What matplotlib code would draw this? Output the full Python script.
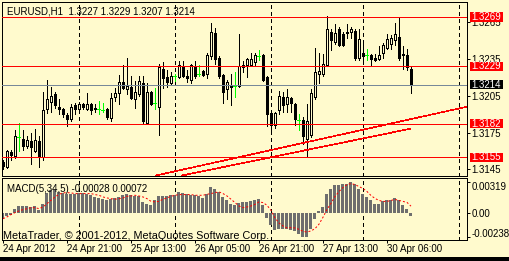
import numpy as np
import matplotlib
matplotlib.use('Agg')
import matplotlib.pyplot as plt
from matplotlib.patches import Rectangle
from matplotlib.transforms import blended_transform_factory

# --- candles (EURUSD H1), one row per bar: open, high, low, close ---
opens = [1.3151, 1.3147, 1.3159, 1.3156, 1.3171, 1.3170, 1.3164, 1.3168, 1.3160, 1.3168,
         1.3155, 1.3194, 1.3200, 1.3206, 1.3196, 1.3194, 1.3189, 1.3186, 1.3197, 1.3194,
         1.3198, 1.3194, 1.3198, 1.3195, 1.3194, 1.3193, 1.3194, 1.3187, 1.3204, 1.3207,
         1.3216, 1.3210, 1.3212, 1.3202, 1.3206, 1.3215, 1.3183, 1.3208, 1.3199, 1.3196,
         1.3227, 1.3220, 1.3215, 1.3221, 1.3220, 1.3229, 1.3221, 1.3218, 1.3229, 1.3223,
         1.3225, 1.3223, 1.3237, 1.3256, 1.3236, 1.3222, 1.3210, 1.3214, 1.3213, 1.3213,
         1.3228, 1.3230, 1.3230, 1.3232, 1.3237, 1.3238, 1.3220, 1.3191, 1.3181, 1.3193,
         1.3204, 1.3198, 1.3203, 1.3198, 1.3185, 1.3185, 1.3170, 1.3173, 1.3204, 1.3223,
         1.3223, 1.3230, 1.3257, 1.3249, 1.3259, 1.3255, 1.3257, 1.3257, 1.3258, 1.3236,
         1.3240, 1.3238, 1.3238, 1.3236, 1.3235, 1.3240, 1.3244, 1.3247, 1.3250, 1.3253,
         1.3239, 1.3238, 1.3227]
highs = [1.3153, 1.3161, 1.3161, 1.3177, 1.3183, 1.3177, 1.3172, 1.3175, 1.3178, 1.3172,
         1.3208, 1.3218, 1.3212, 1.3208, 1.3202, 1.3195, 1.3191, 1.3198, 1.3199, 1.3200,
         1.3199, 1.3207, 1.3199, 1.3198, 1.3201, 1.3199, 1.3195, 1.3207, 1.3211, 1.3222,
         1.3230, 1.3236, 1.3221, 1.3217, 1.3221, 1.3221, 1.3215, 1.3209, 1.3211, 1.3231,
         1.3232, 1.3226, 1.3224, 1.3223, 1.3233, 1.3233, 1.3226, 1.3231, 1.3233, 1.3230,
         1.3226, 1.3240, 1.3264, 1.3260, 1.3237, 1.3223, 1.3218, 1.3223, 1.3224, 1.3255,
         1.3233, 1.3236, 1.3240, 1.3240, 1.3242, 1.3239, 1.3221, 1.3192, 1.3192, 1.3209,
         1.3208, 1.3210, 1.3204, 1.3199, 1.3190, 1.3188, 1.3198, 1.3210, 1.3244, 1.3240,
         1.3239, 1.3270, 1.3259, 1.3263, 1.3261, 1.3257, 1.3263, 1.3261, 1.3259, 1.3259,
         1.3248, 1.3243, 1.3239, 1.3239, 1.3245, 1.3248, 1.3255, 1.3254, 1.3264, 1.3268,
         1.3245, 1.3243, 1.3229]
lows = [1.3145, 1.3146, 1.3153, 1.3154, 1.3160, 1.3161, 1.3162, 1.3149, 1.3159, 1.3147,
        1.3153, 1.3191, 1.3192, 1.3195, 1.3190, 1.3188, 1.3180, 1.3184, 1.3190, 1.3192,
        1.3194, 1.3193, 1.3190, 1.3192, 1.3190, 1.3192, 1.3186, 1.3184, 1.3201, 1.3198,
        1.3210, 1.3206, 1.3202, 1.3195, 1.3205, 1.3182, 1.3182, 1.3197, 1.3194, 1.3173,
        1.3211, 1.3212, 1.3214, 1.3217, 1.3219, 1.3220, 1.3216, 1.3215, 1.3219, 1.3221,
        1.3221, 1.3219, 1.3235, 1.3231, 1.3219, 1.3199, 1.3202, 1.3197, 1.3204, 1.3212,
        1.3224, 1.3220, 1.3229, 1.3230, 1.3234, 1.3217, 1.3180, 1.3176, 1.3179, 1.3190,
        1.3192, 1.3192, 1.3192, 1.3181, 1.3177, 1.3166, 1.3155, 1.3171, 1.3202, 1.3215,
        1.3221, 1.3229, 1.3242, 1.3247, 1.3245, 1.3245, 1.3252, 1.3252, 1.3234, 1.3234,
        1.3234, 1.3234, 1.3229, 1.3233, 1.3234, 1.3236, 1.3243, 1.3243, 1.3246, 1.3234,
        1.3227, 1.3226, 1.3207]
closes = [1.3148, 1.3160, 1.3157, 1.3172, 1.3171, 1.3164, 1.3169, 1.3163, 1.3169, 1.3155,
          1.3193, 1.3202, 1.3205, 1.3197, 1.3194, 1.3190, 1.3186, 1.3196, 1.3194, 1.3198,
          1.3196, 1.3198, 1.3193, 1.3194, 1.3194, 1.3193, 1.3188, 1.3203, 1.3207, 1.3216,
          1.3211, 1.3213, 1.3203, 1.3208, 1.3217, 1.3184, 1.3208, 1.3198, 1.3199, 1.3228,
          1.3219, 1.3216, 1.3221, 1.3221, 1.3230, 1.3221, 1.3219, 1.3230, 1.3221, 1.3223,
          1.3222, 1.3238, 1.3257, 1.3235, 1.3221, 1.3208, 1.3216, 1.3212, 1.3213, 1.3229,
          1.3230, 1.3235, 1.3235, 1.3238, 1.3237, 1.3218, 1.3190, 1.3181, 1.3191, 1.3205,
          1.3197, 1.3204, 1.3199, 1.3186, 1.3185, 1.3172, 1.3184, 1.3207, 1.3224, 1.3225,
          1.3231, 1.3259, 1.3250, 1.3256, 1.3246, 1.3246, 1.3256, 1.3259, 1.3236, 1.3251,
          1.3237, 1.3238, 1.3235, 1.3234, 1.3238, 1.3246, 1.3251, 1.3252, 1.3255, 1.3236,
          1.3238, 1.3228, 1.3214]

# --- MACD(5,34,5) histogram and signal ---
macd = [-0.0006, -0.0003, -0.0002, 0.00047, 0.00071, 0.00071, 0.00071, 0.00064, 0.00071, 0.00037,
        0.00098, 0.00206, 0.00233, 0.00233, 0.00216, 0.00206, 0.00199, 0.00199, 0.00199, 0.00206,
        0.00206, 0.00199, 0.00182, 0.00165, 0.00158, 0.00148, 0.00131, 0.00148, 0.00158, 0.00165,
        0.00182, 0.00192, 0.00182, 0.00175, 0.00175, 0.00115, 0.00098, 0.00088, 0.00131, 0.00172,
        0.00172, 0.00172, 0.00182, 0.00189, 0.00216, 0.00209, 0.00192, 0.00189, 0.00182, 0.00175,
        0.00158, 0.00192, 0.00266, 0.00243, 0.00216, 0.00165, 0.00131, 0.00098, 0.00088, 0.00108,
        0.00115, 0.00115, 0.00121, 0.00138, 0.00142, 0.00088, -0.00047, -0.00121, -0.00172, -0.00155,
        -0.00162, -0.00162, -0.00165, -0.00182, -0.00206, -0.00235, -0.00238, -0.00155, -0.00054, 0.00024,
        0.00064, 0.00199, 0.00243, 0.0029, 0.00283, 0.003, 0.003, 0.00319, 0.003, 0.00249,
        0.00199, 0.00165, 0.00131, 0.00098, 0.00098, 0.00125, 0.00131, 0.00131, 0.00158, 0.00131,
        0.00088, 0.00047, -0.00028]
signal = [-0.00054, -0.00037, -0.00013, 0.00007, 0.00024, 0.00037, 0.00047, 0.00057, 0.00057, 0.00047,
          0.00064, 0.00098, 0.00131, 0.00165, 0.00192, 0.00206, 0.00209, 0.00206, 0.00199, 0.00199,
          0.00199, 0.00199, 0.00199, 0.00189, 0.00182, 0.00165, 0.00155, 0.00148, 0.00142, 0.00148,
          0.00155, 0.00172, 0.00175, 0.00182, 0.00175, 0.00165, 0.00148, 0.00121, 0.00115, 0.00121,
          0.00142, 0.00155, 0.00172, 0.00182, 0.00189, 0.00189, 0.00189, 0.00189, 0.00182, 0.00182,
          0.00182, 0.00192, 0.00199, 0.00209, 0.00216, 0.00199, 0.00175, 0.00142, 0.00108, 0.00074,
          0.00057, 0.00064, 0.00074, 0.00091, 0.00115, 0.00108, 0.00081, 0.0003, -0.00047, -0.00098,
          -0.00128, -0.00148, -0.00145, -0.00148, -0.00162, -0.00182, -0.00189, -0.00178, -0.00155, -0.0011,
          -0.0004, 0.0004, 0.0010, 0.0017, 0.0022, 0.0026, 0.0029, 0.0030, 0.0029, 0.0027,
          0.0025, 0.0022, 0.0018, 0.0015, 0.0013, 0.0012, 0.0012, 0.0013, 0.0014, 0.0013,
          0.0012, 0.0011, 0.00072]

time_ticks = [0, 16, 32, 48, 64, 80, 96]
time_labels = ['24 Apr 2012', '24 Apr 21:00', '25 Apr 13:00', '26 Apr 05:00',
               '26 Apr 21:00', '27 Apr 13:00', '30 Apr 06:00']
day_breaks = [19, 43, 67, 90, 114]
price_ticks = [1.3145, 1.3175, 1.3205, 1.3235, 1.3265]
red_levels = [1.3269, 1.3229, 1.3182, 1.3155]
bid = 1.3214
# trend lines: (bar, price) end points
trend_up = ([38.25, 116.0], [1.3140, 1.3196])
trend_low = ([44.75, 101.75], [1.3140, 1.3178])
macd_ticks = [0.00319, 0.0, -0.00238]
macd_tick_labels = ['0.00319', '0.00', '-0.00238']

W, H = 509, 261
BG = '#FFFACD'
FS = 7
plt.rcParams['font.family'] = ['Liberation Sans', 'DejaVu Sans']

fig = plt.figure(figsize=(W / 100, H / 100), dpi=100, facecolor=BG)
ax = fig.add_axes([2 / W, (H - 176) / H, 465 / W, 174 / H], facecolor=BG)
ax2 = fig.add_axes([2 / W, (H - 240) / H, 465 / W, 62 / H], facecolor=BG)

o, hi, lo, c = map(np.array, (opens, highs, lows, closes))
x = np.arange(len(o))
up, dn, flat = c > o, c < o, c == o

ax.vlines(x[~flat], lo[~flat], hi[~flat], color='black', lw=0.72, antialiased=False, zorder=2)
ax.bar(x[up], c[up] - o[up], bottom=o[up], width=0.5, facecolor=BG, edgecolor='black',
       lw=0.72, antialiased=False, zorder=3)
ax.bar(x[dn], o[dn] - c[dn], bottom=c[dn], width=0.5, facecolor='black', edgecolor='black',
       lw=0.72, antialiased=False, zorder=3)
ax.vlines(x[flat], lo[flat], hi[flat], color='#00FF00', lw=0.72, antialiased=False, zorder=3)
ax.hlines(c[flat], x[flat] - 0.375, x[flat] + 0.375, color='#00FF00', lw=0.72,
          antialiased=False, zorder=3)

for lv in red_levels:
    ax.axhline(lv, color='#FF0000', lw=0.72, antialiased=False, zorder=4)
ax.axhline(bid, color='#778899', lw=0.72, antialiased=False, zorder=4)
for tx, ty in (trend_up, trend_low):
    ax.plot(tx, ty, color='#FF0000', lw=0.45, antialiased=False, zorder=4)

for a in (ax, ax2):
    for b in day_breaks:
        a.axvline(b, color='black', lw=0.72, ls=(0, (3, 3)), antialiased=False, zorder=1)
    a.set_xlim(-0.25, 116)
    for s in a.spines.values():
        s.set_linewidth(0.72)

ax.set_ylim(1.31396, 1.32812)
ax.set_xticks([])
ax.yaxis.tick_right()
ax.set_yticks(price_ticks)
ax.set_yticklabels([f'{p:.4f}' for p in price_ticks])
ax.tick_params(axis='y', direction='out', length=2.2, width=0.72, pad=1, labelsize=FS)

# price boxes on the scale
tr = blended_transform_factory(fig.transFigure, ax.transData)
for lv, col in [(v, '#FF0000') for v in red_levels] + [(bid, 'black')]:
    ax.add_patch(Rectangle((470 / W, lv - 0.00037), 33 / W, 0.00074, transform=tr,
                           facecolor=col, edgecolor='none', clip_on=False, zorder=6))
    ax.text(471.5 / W, lv, f'{lv:.4f}', transform=tr, color='white', fontsize=FS,
            va='center', ha='left', clip_on=False, zorder=7)

# MACD pane
ax2.bar(x, macd, width=0.75, color='#6E6E6E', lw=0, antialiased=False, zorder=2)
ax2.plot(x, signal, color='#FF0000', lw=0.72, ls=(0, (2, 2)), zorder=3)
ax2.set_ylim(-0.002697, 0.003565)
ax2.yaxis.tick_right()
ax2.set_yticks(macd_ticks)
ax2.set_yticklabels(macd_tick_labels)
ax2.tick_params(axis='y', direction='out', length=2.2, width=0.72, pad=1, labelsize=FS)
ylabs = ax2.get_yticklabels()
ylabs[0].set_va('top')
ylabs[2].set_va('baseline')
ax2.set_xticks(time_ticks)
ax2.set_xticklabels(time_labels)
ax2.tick_params(axis='x', direction='out', length=2.5, width=0.72, pad=0.5, labelsize=FS)
for t in ax2.get_xticklabels():
    t.set_ha('left')

fig.text(7 / W, 1 - 11 / H, 'EURUSD,H1  1.3227 1.3229 1.3207 1.3214', fontsize=FS, va='center')
fig.text(7 / W, 1 - 189 / H, 'MACD(5,34,5) -0.00028 0.00072', fontsize=FS, va='center')
fig.text(3 / W, 1 - 236 / H, 'MetaTrader, \u00a9 2001-2012, MetaQuotes Software Corp.',
         fontsize=7.8, va='center')

fig.patches.append(Rectangle((0, 0), 1, 4 / H, transform=fig.transFigure,
                             facecolor='black', edgecolor='none'))

fig.savefig('out.png', dpi=100, facecolor=BG)
